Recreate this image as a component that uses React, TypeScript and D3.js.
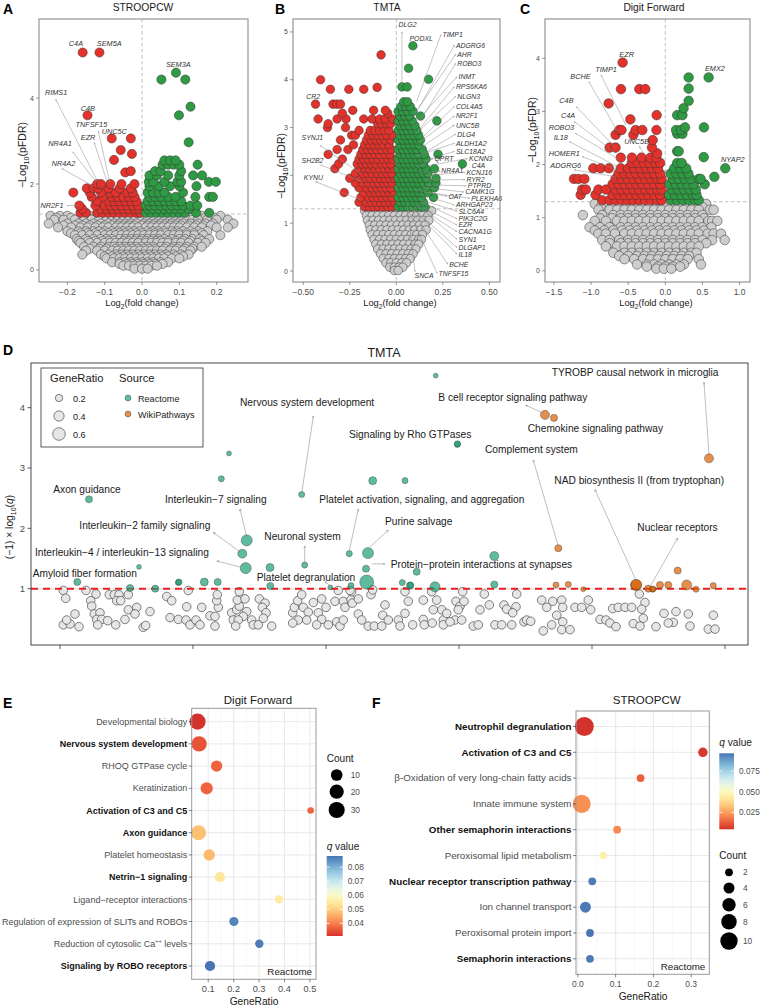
import React from "react";
import * as d3 from "d3";

const FONT = "'Liberation Sans', Arial, Helvetica, sans-serif";

// ===================== Panel A: STROOPCW volcano =====================
const aXTicks = [-0.2, -0.1, 0, 0.1, 0.2];
const aYTicks = [0, 2, 4];
// rows: [y, x1, x2, ...]
const aGrey: number[][] = [
  [1.26, -0.245, -0.22, -0.2, -0.16, -0.14, -0.12, -0.1, -0.085, -0.07, -0.055, -0.04, -0.025, -0.01, 0.005, 0.02, 0.035, 0.05, 0.065, 0.08, 0.095, 0.11, 0.125, 0.14, 0.16, 0.18, 0.21],
  [1.215, -0.23, -0.19, -0.165, -0.145, -0.125, -0.105, -0.09, -0.075, -0.06, -0.045, -0.03, -0.015, 0.01, 0.025, 0.04, 0.055, 0.07, 0.085, 0.1, 0.115, 0.13, 0.15, 0.17, 0.195],
  [1.17, -0.235, -0.21, -0.18, -0.155, -0.135, -0.115, -0.095, -0.08, -0.065, -0.05, -0.035, -0.02, 0.0, 0.015, 0.03, 0.045, 0.06, 0.075, 0.09, 0.105, 0.12, 0.135, 0.15, 0.175, 0.2, 0.23],
  [1.08, -0.25, -0.2, -0.17, -0.15, -0.13, -0.11, -0.09, -0.075, -0.06, -0.045, -0.03, -0.015, 0.005, 0.02, 0.035, 0.05, 0.065, 0.08, 0.095, 0.11, 0.13, 0.15, 0.17, 0.19, 0.245],
  [1.035, -0.21, -0.18, -0.16, -0.14, -0.12, -0.1, -0.08, -0.065, -0.05, -0.035, -0.02, 0.0, 0.015, 0.03, 0.045, 0.06, 0.075, 0.09, 0.105, 0.125, 0.145, 0.165, 0.185],
  [0.99, -0.225, -0.19, -0.165, -0.145, -0.125, -0.105, -0.09, -0.07, -0.055, -0.04, -0.025, -0.01, 0.01, 0.025, 0.04, 0.055, 0.07, 0.085, 0.1, 0.12, 0.14, 0.16, 0.2, 0.23],
  [0.9, -0.2, -0.17, -0.15, -0.13, -0.115, -0.1, -0.08, -0.065, -0.05, -0.035, -0.02, -0.005, 0.015, 0.03, 0.045, 0.06, 0.08, 0.095, 0.11, 0.13, 0.15, 0.175],
  [0.855, -0.19, -0.165, -0.145, -0.125, -0.105, -0.09, -0.075, -0.06, -0.045, -0.03, -0.015, 0.0, 0.02, 0.035, 0.05, 0.065, 0.085, 0.1, 0.12, 0.14, 0.16],
  [0.81, -0.18, -0.16, -0.14, -0.12, -0.1, -0.085, -0.07, -0.055, -0.04, -0.025, -0.01, 0.005, 0.02, 0.035, 0.05, 0.07, 0.085, 0.1, 0.12, 0.14, 0.165, 0.21],
  [0.72, -0.175, -0.15, -0.13, -0.11, -0.095, -0.08, -0.06, -0.045, -0.03, -0.015, 0.0, 0.015, 0.03, 0.045, 0.06, 0.08, 0.1, 0.115, 0.135, 0.155, 0.18],
  [0.675, -0.17, -0.145, -0.125, -0.105, -0.09, -0.075, -0.05, -0.035, -0.02, -0.005, 0.01, 0.025, 0.04, 0.05, 0.07, 0.09, 0.11, 0.13, 0.16],
  [0.63, -0.165, -0.14, -0.12, -0.1, -0.085, -0.07, -0.055, -0.04, -0.025, -0.01, 0.01, 0.025, 0.04, 0.055, 0.07, 0.09, 0.105, 0.125, 0.15, 0.17],
  [0.54, -0.155, -0.13, -0.11, -0.09, -0.075, -0.06, -0.045, -0.03, -0.015, 0.0, 0.015, 0.03, 0.05, 0.065, 0.085, 0.1, 0.12, 0.14, 0.16],
  [0.495, -0.14, -0.115, -0.095, -0.07, -0.055, -0.04, -0.025, -0.01, 0.005, 0.02, 0.035, 0.06, 0.08, 0.095, 0.115, 0.135],
  [0.45, -0.15, -0.12, -0.1, -0.08, -0.065, -0.05, -0.035, -0.02, -0.005, 0.01, 0.025, 0.04, 0.055, 0.075, 0.09, 0.11, 0.13],
  [0.36, -0.16, -0.11, -0.09, -0.07, -0.055, -0.04, -0.025, -0.01, 0.005, 0.02, 0.035, 0.05, 0.065, 0.085, 0.105, 0.125],
  [0.315, -0.1, -0.08, -0.065, -0.05, -0.035, -0.02, -0.005, 0.01, 0.025, 0.04, 0.055, 0.07, 0.09, 0.11],
  [0.27, -0.095, -0.075, -0.06, -0.045, -0.03, -0.015, 0.0, 0.015, 0.03, 0.045, 0.06, 0.08, 0.1],
  [0.18, -0.08, -0.06, -0.045, -0.03, -0.015, 0.0, 0.015, 0.03, 0.05, 0.07],
  [0.14, -0.06, -0.04, -0.025, -0.01, 0.005, 0.02, 0.035, 0.055],
  [0.1, -0.05, -0.035, -0.02, -0.005, 0.01, 0.025, 0.04],
  [0.03, -0.02, 0.0, 0.015],
];
const aRed: number[][] = [
  [1.33, -0.165, -0.15, -0.12, -0.105, -0.09, -0.075, -0.06, -0.045, -0.03, -0.015, -0.005],
  [1.42, -0.16, -0.11, -0.095, -0.08, -0.065, -0.05, -0.035, -0.02, -0.008],
  [1.5, -0.168, -0.125, -0.1, -0.085, -0.07, -0.055, -0.04, -0.025, -0.01],
  [1.6, -0.12, -0.09, -0.075, -0.06, -0.045, -0.03, -0.015],
  [1.7, -0.135, -0.105, -0.08, -0.065, -0.05, -0.035, -0.02],
  [1.8, -0.184, -0.14, -0.11, -0.085, -0.07, -0.04, -0.025],
  [1.9, -0.148, -0.13, -0.118, -0.09, -0.06, -0.03],
  [2.0, -0.12, -0.11, -0.085, -0.055, -0.02],
  [2.27, -0.045], [2.3, -0.03], [2.56, -0.075], [2.7, -0.027], [2.79, -0.057],
  [3.06, -0.081, -0.03], [3.6, -0.146], [5.06, -0.159, -0.114],
];
const aGreen: number[][] = [
  [1.33, 0.01, 0.025, 0.04, 0.055, 0.07, 0.085, 0.1, 0.115, 0.145, 0.18],
  [1.42, 0.015, 0.03, 0.045, 0.06, 0.075, 0.09, 0.105, 0.125],
  [1.5, 0.01, 0.02, 0.035, 0.05, 0.065, 0.08, 0.095, 0.11, 0.13, 0.148],
  [1.6, 0.015, 0.03, 0.045, 0.06, 0.075, 0.09, 0.105],
  [1.7, 0.02, 0.035, 0.05, 0.07, 0.09, 0.143, 0.18, 0.19],
  [1.8, 0.015, 0.03, 0.045, 0.06, 0.11],
  [1.95, 0.02, 0.045, 0.075, 0.1, 0.146],
  [2.05, 0.018, 0.03, 0.06, 0.095, 0.105, 0.179, 0.198],
  [2.2, 0.02, 0.04, 0.07, 0.1, 0.137, 0.161],
  [2.3, 0.035, 0.05, 0.105],
  [2.45, 0.055, 0.07, 0.085, 0.1, 0.149],
  [2.55, 0.06, 0.075, 0.09],
  [2.97, 0.125], [3.6, 0.099], [3.8, 0.13], [4.43, 0.052, 0.116], [4.59, 0.091],
];
// [gene, labelX, labelY, lineStartX, lineStartY, pointX, pointY]
const aLabels: any[][] = [
  ["C4A", -0.196, 5.21],
  ["SEM5A", -0.121, 5.21],
  ["SEM3A", 0.064, 4.73],
  ["RIMS1", -0.26, 4.07, -0.231, 3.97, -0.119, 2.06],
  ["C4B", -0.164, 3.7],
  ["TNFSF15", -0.178, 3.33, -0.117, 3.23, -0.086, 2.02],
  ["UNC5C", -0.108, 3.16],
  ["EZR", -0.164, 3.02, -0.128, 2.96, -0.095, 2.09],
  ["NR4A1", -0.251, 2.89, -0.186, 2.75, -0.121, 2.03],
  ["NR4A2", -0.242, 2.43, -0.215, 2.36, -0.128, 1.94],
  ["NR2F1", -0.272, 1.44, -0.2, 1.5, -0.169, 1.5],
];

// ===================== Panel B: TMTA volcano =====================
const bXTicks = [-0.5, -0.25, 0, 0.25, 0.5];
const bYTicks = [0, 1, 2, 3, 4, 5];
const bGrey: number[][] = [
  [1.26, -0.17, -0.14, -0.11, -0.08, -0.05, -0.02, 0.01, 0.04, 0.07, 0.1, 0.13, 0.16, 0.19],
  [1.16, -0.16, -0.13, -0.1, -0.07, -0.04, -0.01, 0.02, 0.05, 0.08, 0.11, 0.14, 0.17],
  [1.06, -0.155, -0.125, -0.095, -0.065, -0.035, -0.005, 0.025, 0.055, 0.085, 0.115, 0.145, 0.175],
  [0.96, -0.145, -0.115, -0.085, -0.055, -0.025, 0.005, 0.035, 0.065, 0.095, 0.125, 0.155],
  [0.86, -0.14, -0.11, -0.08, -0.05, -0.02, 0.01, 0.04, 0.07, 0.1, 0.13, 0.16],
  [0.76, -0.13, -0.1, -0.07, -0.04, -0.01, 0.02, 0.05, 0.08, 0.11, 0.14],
  [0.66, -0.12, -0.09, -0.06, -0.03, 0.0, 0.03, 0.06, 0.09, 0.12, 0.135],
  [0.56, -0.11, -0.08, -0.05, -0.02, 0.01, 0.04, 0.07, 0.1, 0.12],
  [0.46, -0.1, -0.07, -0.04, -0.01, 0.02, 0.05, 0.08, 0.105],
  [0.36, -0.085, -0.055, -0.025, 0.005, 0.035, 0.065, 0.09],
  [0.26, -0.07, -0.04, -0.01, 0.02, 0.05, 0.075],
  [0.17, -0.055, -0.03, 0.0, 0.03, 0.055],
  [0.08, -0.035, -0.01, 0.015, 0.035],
  [0.01, -0.01, 0.01],
];
const bRed: number[][] = [
  [1.34, -0.17, -0.145, -0.12, -0.095, -0.07, -0.045, -0.02],
  [1.44, -0.2, -0.16, -0.135, -0.11, -0.085, -0.06, -0.035, -0.01],
  [1.54, -0.19, -0.15, -0.125, -0.1, -0.075, -0.05, -0.025],
  [1.64, -0.28, -0.175, -0.14, -0.115, -0.09, -0.065, -0.04, -0.015],
  [1.74, -0.2, -0.16, -0.13, -0.105, -0.08, -0.055, -0.03],
  [1.84, -0.22, -0.18, -0.15, -0.12, -0.095, -0.07, -0.045, -0.02],
  [1.94, -0.25, -0.2, -0.165, -0.14, -0.11, -0.085, -0.06, -0.035, -0.01],
  [2.04, -0.22, -0.18, -0.155, -0.13, -0.1, -0.075, -0.05, -0.025],
  [2.14, -0.33, -0.2, -0.17, -0.145, -0.12, -0.09, -0.065, -0.04, -0.015],
  [2.24, -0.31, -0.21, -0.185, -0.16, -0.135, -0.11, -0.08, -0.055, -0.03],
  [2.34, -0.29, -0.2, -0.175, -0.15, -0.125, -0.1, -0.07, -0.045, -0.02],
  [2.44, -0.366, -0.19, -0.165, -0.14, -0.115, -0.09, -0.06, -0.035],
  [2.54, -0.318, -0.26, -0.18, -0.155, -0.13, -0.105, -0.08, -0.05, -0.025],
  [2.64, -0.23, -0.17, -0.145, -0.12, -0.095, -0.07, -0.04],
  [2.74, -0.3, -0.16, -0.135, -0.11, -0.085, -0.06, -0.03],
  [2.84, -0.24, -0.22, -0.15, -0.125, -0.1, -0.075, -0.05, -0.02],
  [2.94, -0.2, -0.14, -0.115, -0.09, -0.065, -0.04],
  [3.0, -0.37, -0.273],
  [3.08, -0.366, -0.1, -0.08, -0.05, -0.03],
  [3.18, -0.42, -0.318, -0.27, -0.175, -0.13, -0.09, -0.06, -0.02],
  [3.3, -0.29, -0.046],
  [3.36, -0.234, -0.122, -0.059],
  [3.49, -0.434, -0.34, -0.32, -0.3],
  [3.8, -0.354, -0.255, -0.175],
  [3.84, -0.103], [4.0, -0.407], [4.52, -0.082],
];
const bGreen: number[][] = [
  [1.34, 0.01, 0.035, 0.06, 0.085, 0.11, 0.135, 0.155],
  [1.44, 0.02, 0.045, 0.07, 0.095, 0.12, 0.145],
  [1.54, 0.01, 0.035, 0.06, 0.085, 0.11, 0.135, 0.2],
  [1.64, 0.02, 0.045, 0.07, 0.095, 0.12, 0.145, 0.17],
  [1.74, 0.01, 0.035, 0.06, 0.085, 0.11, 0.135, 0.16, 0.205],
  [1.84, 0.02, 0.045, 0.07, 0.095, 0.12, 0.145, 0.175, 0.213],
  [1.94, 0.01, 0.035, 0.06, 0.085, 0.11, 0.135, 0.16, 0.213],
  [2.04, 0.02, 0.045, 0.07, 0.095, 0.12, 0.145, 0.17],
  [2.14, 0.01, 0.035, 0.06, 0.085, 0.11, 0.135, 0.16, 0.205],
  [2.24, 0.02, 0.045, 0.07, 0.095, 0.12, 0.145, 0.355],
  [2.34, 0.01, 0.035, 0.06, 0.085, 0.11, 0.135, 0.16],
  [2.44, 0.02, 0.045, 0.07, 0.095, 0.12, 0.15, 0.224],
  [2.54, 0.01, 0.035, 0.06, 0.085, 0.11, 0.14],
  [2.64, 0.02, 0.045, 0.07, 0.095, 0.12],
  [2.74, 0.01, 0.035, 0.06, 0.085, 0.11, 0.13],
  [2.84, 0.02, 0.045, 0.07, 0.095, 0.12],
  [2.94, 0.01, 0.035, 0.06, 0.085, 0.11],
  [3.04, 0.02, 0.045, 0.07, 0.1],
  [3.14, 0.01, 0.035, 0.06, 0.085, 0.218],
  [3.24, 0.02, 0.045, 0.07, 0.13],
  [3.34, 0.01, 0.035, 0.06, 0.09],
  [3.44, 0.025, 0.05, 0.075],
  [3.54, 0.04, 0.06],
  [3.85, 0.03, 0.058], [4.01, 0.173], [4.24, 0.066], [4.71, 0.089],
];
const bLabels: any[][] = [
  ["DLG2", 0.012, 5.1, 0.03, 5.0, 0.03, 3.89],
  ["PODXL", 0.071, 4.81],
  ["TIMP1", 0.248, 4.89, null, null, 0.11, 3.55],
  ["ADGRG6", 0.32, 4.67, null, null, 0.12, 3.4],
  ["AHR", 0.327, 4.48, null, null, 0.1, 3.3],
  ["ROBO3", 0.327, 4.29, null, null, 0.13, 3.15],
  ["INMT", 0.334, 4.01, null, null, 0.09, 3.05],
  ["RPS6KA6", 0.32, 3.8, null, null, 0.12, 2.95],
  ["NLGN3", 0.327, 3.6, null, null, 0.1, 2.85],
  ["COL4A5", 0.32, 3.39, null, null, 0.13, 2.75],
  ["NR2F1", 0.32, 3.19, null, null, 0.11, 2.65],
  ["UNC5B", 0.32, 3.0, null, null, 0.12, 2.55],
  ["DLG4", 0.327, 2.81, null, null, 0.14, 2.45],
  ["ALDH1A2", 0.32, 2.62, null, null, 0.1, 2.4],
  ["SLC18A2", 0.32, 2.45, null, null, 0.15, 2.3],
  ["QPRT", 0.205, 2.3, null, null, 0.11, 2.15],
  ["KCNN3", 0.391, 2.3, null, null, 0.17, 2.2],
  ["C4A", 0.405, 2.16],
  ["NR4A1", 0.241, 2.04, null, null, 0.12, 2.05],
  ["KCNJ16", 0.377, 2.01, null, null, 0.16, 2.0],
  ["RYR2", 0.377, 1.86, null, null, 0.15, 1.9],
  ["PTPRD", 0.384, 1.73, null, null, 0.16, 1.8],
  ["CAMK1G", 0.37, 1.6, null, null, 0.14, 1.75],
  ["OAT", 0.28, 1.51, null, null, 0.1, 1.7],
  ["PLEKHA6", 0.402, 1.47, null, null, 0.15, 1.65],
  ["ARHGAP23", 0.32, 1.33, null, null, 0.13, 1.6],
  ["SLC6A4", 0.334, 1.2, null, null, 0.12, 1.5],
  ["PIK3C2G", 0.334, 1.04, null, null, 0.13, 1.45],
  ["EZR", 0.334, 0.91, null, null, 0.11, 1.4],
  ["CACNA1G", 0.334, 0.77, null, null, 0.1, 1.38],
  ["SYN1", 0.334, 0.61, null, null, 0.12, 1.35],
  ["DLGAP1", 0.334, 0.44, null, null, 0.09, 1.3],
  ["IL18", 0.334, 0.3, null, null, 0.08, 1.33],
  ["BCHE", 0.284, 0.09, null, null, 0.07, 1.35],
  ["TNFSF15", 0.227, -0.1, null, null, 0.06, 1.32],
  ["SNCA", 0.098, -0.15, 0.1, -0.01, 0.057, 1.42],
  ["CR2", -0.484, 3.6],
  ["SYNJ1", -0.509, 2.73, -0.407, 2.62, -0.193, 2.04],
  ["SH2B2", -0.509, 2.25, -0.407, 2.22, -0.184, 1.87],
  ["KYNU", -0.497, 1.9, -0.434, 1.87, -0.193, 1.49],
];

// ===================== Panel C: Digit Forward volcano =====================
const cXTicks = [-1.5, -1, -0.5, 0, 0.5, 1];
const cYTicks = [0, 1, 2, 3, 4];
const cGrey: number[][] = [
  [1.26, -0.95, -0.8, -0.7, -0.6, -0.5, -0.4, -0.3, -0.2, -0.1, 0.0, 0.1, 0.2, 0.3, 0.4, 0.55],
  [1.2, -0.87, -0.72, -0.62, -0.52, -0.42, -0.32, -0.22, -0.12, -0.02, 0.08, 0.18, 0.28, 0.38, 0.5],
  [1.15, -0.9, -0.75, -0.65, -0.55, -0.45, -0.35, -0.25, -0.15, -0.05, 0.05, 0.15, 0.25, 0.35, 0.45, 0.6, 0.65],
  [1.05, -1.11, -0.85, -0.7, -0.6, -0.5, -0.4, -0.3, -0.2, -0.1, 0.0, 0.1, 0.2, 0.3, 0.4, 0.5],
  [0.99, -0.88, -0.72, -0.6, -0.5, -0.4, -0.3, -0.2, -0.1, 0.0, 0.1, 0.2, 0.3, 0.4, 0.52],
  [0.94, -0.95, -0.8, -0.65, -0.55, -0.45, -0.35, -0.25, -0.15, -0.05, 0.05, 0.15, 0.25, 0.35, 0.45, 0.58, 0.63, 0.7],
  [0.82, -1.02, -0.88, -0.75, -0.6, -0.5, -0.4, -0.3, -0.2, -0.1, 0.0, 0.1, 0.2, 0.3, 0.4, 0.5, 0.62],
  [0.76, -0.95, -0.82, -0.7, -0.58, -0.48, -0.38, -0.28, -0.18, -0.08, 0.02, 0.12, 0.22, 0.32, 0.42, 0.52],
  [0.7, -0.9, -0.8, -0.68, -0.55, -0.45, -0.35, -0.25, -0.15, -0.05, 0.05, 0.15, 0.25, 0.35, 0.45, 0.57, 0.65, 0.75],
  [0.58, -0.85, -0.75, -0.62, -0.5, -0.4, -0.3, -0.2, -0.1, 0.0, 0.1, 0.2, 0.3, 0.4, 0.5, 0.63, 0.8],
  [0.52, -0.75, -0.6, -0.5, -0.4, -0.3, -0.2, -0.1, 0.0, 0.1, 0.2, 0.3, 0.4, 0.55],
  [0.46, -0.8, -0.65, -0.55, -0.45, -0.35, -0.25, -0.15, -0.05, 0.05, 0.15, 0.25, 0.35, 0.45],
  [0.34, -0.7, -0.55, -0.45, -0.35, -0.25, -0.15, -0.05, 0.05, 0.15, 0.25, 0.35, 0.42],
  [0.28, -0.62, -0.5, -0.38, -0.28, -0.18, -0.08, 0.02, 0.12, 0.22, 0.32],
  [0.22, -0.55, -0.42, -0.3, -0.2, -0.1, 0.0, 0.1, 0.2, 0.3, 0.45],
  [0.12, -0.38, -0.25, -0.15, -0.05, 0.05, 0.15, 0.25, 0.48],
  [0.08, -0.25, -0.1, 0.0, 0.1, 0.2],
  [0.04, -0.12, -0.02, 0.08],
];
const cRed: number[][] = [
  [1.33, -0.85, -0.75, -0.67, -0.59, -0.51, -0.43, -0.35, -0.27, -0.19, -0.11, -0.05],
  [1.43, -1.14, -0.94, -0.71, -0.63, -0.55, -0.47, -0.39, -0.31, -0.23, -0.15, -0.07],
  [1.53, -1.12, -1.07, -0.9, -0.8, -0.67, -0.59, -0.51, -0.43, -0.35, -0.27, -0.19, -0.11, -0.05],
  [1.63, -0.71, -0.63, -0.55, -0.47, -0.39, -0.31, -0.23, -0.15, -0.07],
  [1.73, -1.23, -1.17, -1.09, -0.67, -0.59, -0.51, -0.43, -0.35, -0.27, -0.19, -0.11, -0.05],
  [1.83, -0.63, -0.55, -0.47, -0.39, -0.31, -0.23, -0.15, -0.07],
  [1.93, -0.97, -0.87, -0.76, -0.6, -0.5, -0.42, -0.34, -0.26, -0.18, -0.1],
  [2.03, -0.45, -0.37, -0.29, -0.21, -0.13, -0.07],
  [2.13, -0.6, -0.45, -0.32, -0.2, -0.12],
  [2.21, -0.11],
  [2.32, -0.75, -0.67, -0.18],
  [2.46, -0.17],
  [2.56, -0.67, -0.43],
  [2.65, -0.62, -0.59, -0.4, -0.31, -0.12],
  [2.85, -0.471], [2.93, -0.117], [3.15, -0.763],
  [3.42, -0.597, -0.35, -0.27], [3.92, -0.575],
];
const cGreen: number[][] = [
  [1.33, 0.08, 0.16, 0.24, 0.32, 0.4, 0.45],
  [1.43, 0.05, 0.13, 0.21, 0.29, 0.37, 0.42],
  [1.53, 0.09, 0.17, 0.25, 0.33, 0.41],
  [1.63, 0.06, 0.14, 0.22, 0.3, 0.38, 0.53],
  [1.73, 0.1, 0.18, 0.26, 0.34, 0.45, 0.475],
  [1.77, 0.66],
  [1.83, 0.07, 0.15, 0.23, 0.31],
  [1.93, 0.12, 0.2, 0.28, 0.807],
  [2.03, 0.16, 0.22],
  [2.14, 0.517], [2.25, 0.16, 0.18],
  [2.58, 0.16, 0.23], [2.65, 0.144, 0.21], [2.7, 0.265, 0.52],
  [2.93, 0.16, 0.23], [3.06, 0.246], [3.2, 0.314], [3.43, 0.314], [3.64, 0.314, 0.583],
];
const cLabels: any[][] = [
  ["EZR", -0.619, 4.03],
  ["TIMP1", -0.942, 3.75, -0.865, 3.68, -0.529, 2.74],
  ["BCHE", -1.279, 3.62, -1.03, 3.56, -0.642, 2.62],
  ["C4B", -1.427, 3.16, -1.2, 3.09, -0.664, 2.31],
  ["C4A", -1.404, 2.87, -1.225, 2.81, -0.664, 2.21],
  ["ROBO3", -1.571, 2.65, -1.21, 2.59, -0.619, 2.09],
  ["IL18", -1.503, 2.46, -1.29, 2.43, -0.642, 1.96],
  ["HOMER1", -1.571, 2.17, -1.12, 2.15, -0.596, 1.87],
  ["ADGRG6", -1.548, 1.93, -1.225, 1.9, -0.664, 1.77],
  ["UNC5B", -0.552, 2.38, -0.35, 2.34, -0.26, 2.15],
  ["EMX2", 0.534, 3.77],
  ["NYAP2", 0.75, 2.04],
];

// ===================== Panel D: TMTA enrichment =====================
const dXTicks = [29, 162, 295, 428, 561, 694];
const dYTicks = [1, 2, 3, 4];
const dGrey: number[][] = [
  [32.3, 0.97], [34.7, 0.84], [55, 0.97], [65, 0.91], [59.7, 0.8], [60.7, 0.71], [44, 0.58], [63.3, 0.58], [69, 0.6], [65.7, 0.49],
  [70.7, 0.49], [32.3, 0.4], [39, 0.415], [35.7, 0.48], [48, 0.37], [66.7, 0.4], [76.7, 0.47], [84.7, 0.4], [78.3, 0.9], [83.3, 0.9],
  [88, 0.9], [85.7, 0.8], [89.7, 0.8], [97.3, 0.9], [97.3, 0.65], [105.7, 0.69], [104, 0.58], [94, 0.49], [112.3, 0.36], [114.7, 0.39],
  [119, 0.62], [135.7, 0.87], [140.7, 0.8], [155.7, 0.7], [139, 0.52], [147.3, 0.49], [155, 0.48], [159, 0.4], [165, 0.48], [169, 0.4],
  [170.7, 0.69], [179, 0.55], [184, 0.54], [187.3, 0.69], [185.7, 0.8], [186.3, 0.9], [157.3, 0.97], [184, 0.38], [200.7, 0.6], [202.3, 0.48],
  [205.7, 0.65], [208.3, 0.71], [206.3, 0.81], [208.3, 0.95], [214, 0.83], [215.7, 0.62], [212.3, 0.54], [207.3, 0.48], [204.7, 0.38], [220.7, 0.48],
  [222.3, 0.4], [227.3, 0.4], [228.3, 0.83], [234, 0.76], [231.3, 0.69], [235, 0.6], [232.3, 0.51], [240.7, 0.38], [261.7, 0.6], [263.3, 0.69],
  [266.7, 0.8], [270.7, 0.9], [272.3, 0.69], [277.3, 0.61], [282.3, 0.77], [287.3, 0.6], [290.7, 0.83], [295, 0.69], [290.7, 0.49], [285.7, 0.4],
  [275.7, 0.48], [267.3, 0.48], [261.7, 0.43], [297.3, 0.4], [305.7, 0.45], [309, 0.38], [312.3, 0.48], [304, 0.79], [312.3, 0.79], [314, 0.69],
  [320, 0.82], [320.7, 0.95], [321.3, 0.76], [327.3, 0.83], [327.3, 0.58], [330.7, 0.48], [337.3, 0.38], [340, 0.9], [343.3, 0.38], [341.7, 0.98],
  [307.3, 0.97], [319, 0.97],
  [354, 0.73], [351.7, 0.56], [357.3, 0.48], [350.7, 0.38], [374, 0.95], [377.3, 0.79], [374, 0.59], [367.3, 0.48], [369, 0.38], [381.7, 0.4],
  [392.3, 0.81], [400.7, 0.95], [405.7, 0.81], [402.3, 0.65], [392.3, 0.49], [393.3, 0.4], [401.3, 0.43], [412.3, 0.48], [412.3, 0.4], [410.7, 0.65],
  [415.7, 0.59], [424, 0.48], [419, 0.45], [425, 0.79], [429, 0.71], [431.7, 0.95], [433, 0.79], [427.3, 0.65], [430.7, 0.48], [442.3, 0.38],
  [449, 0.65], [447.3, 0.4], [453.3, 0.91], [458.3, 0.73], [464, 0.4], [473, 0.73], [475.7, 0.66], [485.7, 0.91], [485, 0.7], [481.7, 0.6],
  [470.7, 0.4], [480.7, 0.4], [493, 0.45], [495.7, 0.48], [499.7, 0.46], [510.7, 0.81], [515.7, 0.69], [521.7, 0.79], [530.7, 0.81], [531.7, 0.69],
  [525.7, 0.56], [520.7, 0.4], [512.3, 0.3], [531.7, 0.45], [530.7, 0.32], [539, 0.32], [544, 0.69], [550.7, 0.69], [557.3, 0.81], [559.7, 0.65],
  [569, 0.49], [575, 0.48], [579, 0.43], [585, 0.37], [581.7, 0.67], [587.3, 0.69], [594, 0.69], [600.7, 0.69], [608.3, 0.91], [614, 0.77],
  [610.7, 0.66], [612.3, 0.51], [602.3, 0.42], [609, 0.38], [625, 0.37], [633, 0.59], [645, 0.62], [642.3, 0.44], [637.3, 0.43], [659, 0.38],
  [657.3, 0.58], [682.3, 0.56], [677.3, 0.33], [684, 0.33],
];
const dGreyRatio = 0.28;
// [x index, -log10(q), GeneRatio]
const dReactome: number[][] = [
  [58, 2.48, 0.19], [198, 3.24, 0.09], [190.3, 2.82, 0.14], [270.7, 2.56, 0.14], [215.7, 1.8, 0.46], [211.3, 1.58, 0.31],
  [214.7, 1.34, 0.46], [239, 1.35, 0.24], [273.7, 1.39, 0.14], [318.3, 1.58, 0.14], [337, 1.59, 0.46], [335, 1.33, 0.19],
  [335.7, 1.11, 0.74], [108, 1.36, 0.09], [46.3, 1.11, 0.19], [99, 1.01, 0.19], [124.3, 1.0, 0.19], [147.3, 1.1, 0.14],
  [148, 1.11, 0.14], [173.3, 1.11, 0.24], [186.7, 1.11, 0.19], [239.3, 1.045, 0.19], [299.3, 1.02, 0.09], [320, 1.05, 0.14],
  [463.3, 1.54, 0.31], [385.7, 1.28, 0.19], [371.3, 1.1, 0.14], [379, 1.05, 0.19], [379.5, 1.06, 0.14], [404, 1.03, 0.38],
  [463.3, 1.07, 0.19], [404.7, 4.53, 0.09], [426.3, 3.39, 0.14], [426.6, 3.4, 0.14], [374, 2.79, 0.14], [341.7, 2.79, 0.24],
];
const dWiki: number[][] = [
  [514, 3.88, 0.31], [523, 3.83, 0.19], [678, 3.16, 0.31], [527.3, 1.67, 0.19], [525, 1.06, 0.14], [537.3, 1.07, 0.14],
  [552.3, 0.99, 0.09], [605, 1.06, 0.46], [605.3, 1.065, 0.42], [617.3, 1.0, 0.19], [621.7, 0.99, 0.14], [622, 0.995, 0.12],
  [629, 1.06, 0.19], [637.3, 1.06, 0.19], [646.7, 1.3, 0.19], [655.7, 1.06, 0.38], [665, 0.99, 0.14], [682.3, 1.05, 0.14],
];
// [term, labelX, labelY(baseline), arrowFromX, arrowFromY, arrowToX, arrowToY]
const dLabels: any[][] = [
  ["Axon guidance", 22.3, 2.58],
  ["Nervous system development", 209, 4.02, 270.7, 2.58, 282.3, 3.86],
  ["Interleukin\u22127 signaling", 134, 2.42, 215.7, 1.86, 209, 2.32],
  ["Platelet activation, signaling, and aggregation", 288.3, 2.42, 318.3, 1.63, 327.3, 2.32],
  ["Interleukin\u22122 family signaling", 48.3, 1.99, 209, 1.61, 182.3, 1.93],
  ["Neuronal system", 233.3, 1.81, 273.7, 1.44, 273.7, 1.71],
  ["Interleukin\u22124 / interleukin\u221213 signaling", 4, 1.54, 209, 1.36, 185.7, 1.46],
  ["Amyloid fiber formation", 1.7, 1.2],
  ["Platelet degranulation", 225.7, 1.13, 299, 1.05, 294, 1.12],
  ["TYROBP causal network in microglia", 520.7, 4.53, 678, 3.22, 673, 4.42],
  ["B cell receptor signaling pathway", 407.3, 4.11, 512.3, 3.91, 494.7, 4.04],
  ["Chemokine signaling pathway", 496.7, 3.6],
  ["Signaling by Rho GTPases", 318, 3.49],
  ["Complement system", 454, 3.25, 527.3, 1.7, 502.3, 3.13],
  ["NAD biosynthesis II (from tryptophan)", 523.3, 2.74, 605, 1.14, 564, 2.64],
  ["Purine salvage", 354, 2.05, 339, 1.69, 357.3, 1.97],
  ["Nuclear receptors", 606.3, 1.95, 619, 1.03, 646.7, 1.84],
  ["Protein\u2212protein interactions at synapses", 359.7, 1.35, 341, 1.41, 354, 1.41],
];
const dLegendRatios = [0.2, 0.4, 0.6];
const dSources = ["Reactome", "WikiPathways"];

// ===================== Panel E: Digit Forward dot plot =====================
const eTerms = [
  "Developmental biology", "Nervous system development", "RHOQ GTPase cycle", "Keratinization",
  "Activation of C3 and C5", "Axon guidance", "Platelet homeostasis", "Netrin\u22121 signaling",
  "Ligand\u2212receptor interactions", "Regulation of expression of SLITs and ROBOs",
  "Reduction of cytosolic Ca++ levels", "Signaling by ROBO receptors",
];
const eBold = [false, true, false, false, true, true, false, true, false, false, false, true];
const eRatio = [0.058, 0.064, 0.133, 0.094, 0.503, 0.062, 0.104, 0.146, 0.378, 0.201, 0.301, 0.107];
const eCount = [30, 26, 9, 12, 2, 24, 9, 6, 3, 4, 3, 6];
const eQ = [0.031, 0.035, 0.037, 0.037, 0.037, 0.048, 0.047, 0.054, 0.055, 0.086, 0.087, 0.088];
const eXTicks = [0.1, 0.2, 0.3, 0.4, 0.5];
const eCountBreaks = [10, 20, 30];
const eQBreaks = [0.04, 0.05, 0.06, 0.07, 0.08];

// ===================== Panel F: STROOPCW dot plot =====================
const fTerms = [
  "Neutrophil degranulation", "Activation of C3 and C5", "\u03B2-Oxidation of very long-chain fatty acids",
  "Innate immune system", "Other semaphorin interactions", "Peroxisomal lipid metabolism",
  "Nuclear receptor transcription pathway", "Ion channel transport", "Peroxisomal protein import",
  "Semaphorin interactions",
];
const fBold = [true, true, false, false, true, false, true, false, false, true];
const fRatio = [0.017, 0.331, 0.166, 0.01, 0.104, 0.067, 0.038, 0.02, 0.032, 0.032];
const fCount = [12, 3, 2, 11, 2, 2, 2, 4, 2, 2];
const fQ = [0.0045, 0.006, 0.013, 0.022, 0.021, 0.046, 0.095, 0.0955, 0.0964, 0.095];
const fXTicks = [0.0, 0.1, 0.2, 0.3];
const fCountBreaks = [2, 4, 6, 8, 10];
const fQBreaks = [0.025, 0.05, 0.075];

// ---------------------------------------------------------------------
const rowsToPts = (rows: number[][]) =>
  rows.flatMap((r) => r.slice(1).map((x) => [x, r[0]] as [number, number]));

const RED = "#E3322C";
const GREEN = "#2F9A44";
const GREY = "#CDCDCD";
const TXT = "#4D4D4D";

function Volcano(p: any) {
  const { box, xDomain, yDomain, xTicks, yTicks, xFmt, grey, red, green, r, labels,
    title, titleX, yLabX, yLabY, xLabX, letter, letterX, labelSize } = p;
  const x = d3.scaleLinear().domain(xDomain).range([box.l, box.r]);
  const y = d3.scaleLinear().domain(yDomain).range([box.b, box.t]);
  const thr = -Math.log10(0.05);
  const circ = (pts: [number, number][], fill: string, key: string) =>
    pts.map(([a, b], i) => (
      <circle key={key + i} cx={x(a)} cy={y(b)} r={r} fill={fill} stroke="#333" strokeWidth={0.5} />
    ));
  return (
    <g>
      <text x={letterX} y={14} fontSize={14} fontWeight="bold" fill="#000">{letter}</text>
      <text x={titleX} y={11} textAnchor="middle" fontSize={10.3} fill="#1a1a1a">{title}</text>
      <line x1={x(0)} x2={x(0)} y1={box.t} y2={box.b} stroke="#b0b0b0" strokeWidth={0.8} strokeDasharray="3.5,2.5" />
      <line x1={box.l} x2={box.r} y1={y(thr)} y2={y(thr)} stroke="#b0b0b0" strokeWidth={0.8} strokeDasharray="3.5,2.5" />
      {circ(rowsToPts(grey), GREY, "g")}
      {circ(rowsToPts(red), RED, "r")}
      {circ(rowsToPts(green), GREEN, "n")}
      {labels.map((l: any[], i: number) => {
        const [name, lx, ly, sx, sy, tx, ty] = l;
        const hasLine = tx != null;
        const s = sx != null ? [x(sx), y(sy)] : [x(lx) - 1.5, y(ly) - 2.5];
        return (
          <g key={"l" + i}>
            {hasLine && (
              <line x1={x(tx)} y1={y(ty)} x2={s[0]} y2={s[1]} stroke="#8a8a8a" strokeWidth={0.5} markerEnd="url(#arrV)" />
            )}
            <text x={x(lx)} y={y(ly)} fontSize={labelSize} fontStyle="italic" fill="#333">{name}</text>
          </g>
        );
      })}
      <rect x={box.l} y={box.t} width={box.r - box.l} height={box.b - box.t} fill="none" stroke="#8c8c8c" strokeWidth={1.1} />
      {xTicks.map((t: number) => (
        <g key={"xt" + t}>
          <line x1={x(t)} x2={x(t)} y1={box.b} y2={box.b + 3} stroke="#555" strokeWidth={0.6} />
          <text x={x(t)} y={box.b + 13} textAnchor="middle" fontSize={8.5} fill={TXT}>{xFmt(t)}</text>
        </g>
      ))}
      {yTicks.map((t: number) => (
        <g key={"yt" + t}>
          <line x1={box.l - 3} x2={box.l} y1={y(t)} y2={y(t)} stroke="#555" strokeWidth={0.6} />
          <text x={box.l - 5} y={y(t) + 2.5} textAnchor="end" fontSize={7} fill={TXT}>{t}</text>
        </g>
      ))}
      <text transform={`translate(${yLabX},${yLabY}) rotate(-90)`} textAnchor="middle" fontSize={10.5} fill="#1a1a1a">
        <tspan>{"\u2212Log"}</tspan>
        <tspan dy={2.5} fontSize={7.2}>10</tspan>
        <tspan dy={-2.5}>(pFDR)</tspan>
      </text>
      <text x={xLabX} y={306} textAnchor="middle" fontSize={9.3} fill="#1a1a1a">
        <tspan>Log</tspan>
        <tspan dy={2.5} fontSize={6.6}>2</tspan>
        <tspan dy={-2.5}>(fold change)</tspan>
      </text>
    </g>
  );
}

function PanelD() {
  const box = { l: 31, r: 748, t: 363, b: 645 };
  const x = d3.scaleLinear().domain([0, 717]).range([box.l, box.r]);
  const y = d3.scaleLinear().domain([0.066, 4.74]).range([box.b, box.t]);
  const rs = d3.scaleSqrt().domain([0, 0.6]).range([0, 6.3]);
  const srcColor = d3.scaleOrdinal<string, string>().domain(dSources).range(["#1B9E77", "#D95F02"]);
  return (
    <g>
      <text x={3} y={355} fontSize={14} fontWeight="bold">D</text>
      <text x={384} y={357} textAnchor="middle" fontSize={12.5} fill="#1a1a1a">TMTA</text>
      <line x1={box.l} x2={box.r} y1={y(1)} y2={y(1)} stroke="#e3e3e3" strokeWidth={1.5} />
      {dGrey.map(([a, b], i) => (
        <circle key={"dg" + i} cx={x(a)} cy={y(b)} r={rs(dGreyRatio)} fill="#E6E6E6" stroke="#333" strokeWidth={0.6} />
      ))}
      <line x1={box.l} x2={box.r} y1={y(1)} y2={y(1)} stroke="#E8211F" strokeWidth={2} strokeDasharray="7,5" />
      {[...dReactome.map((d) => [...d, 0]), ...dWiki.map((d) => [...d, 1])].map(([a, b, gr, s], i) => (
        <circle key={"dc" + i} cx={x(a)} cy={y(b)} r={rs(gr)} fill={srcColor(dSources[s])} fillOpacity={0.7}
          stroke="#333" strokeOpacity={0.75} strokeWidth={0.5} />
      ))}
      {dLabels.map((l, i) => {
        const [name, lx, ly, fx, fy, tx, ty] = l;
        return (
          <g key={"dl" + i}>
            {fx != null && (
              <line x1={x(fx)} y1={y(fy)} x2={x(tx)} y2={y(ty)} stroke="#8a8a8a" strokeWidth={0.55} markerEnd="url(#arrD)" />
            )}
            <text x={x(lx)} y={y(ly)} fontSize={10.2} fill="#1a1a1a">{name}</text>
          </g>
        );
      })}
      <rect x={box.l} y={box.t} width={box.r - box.l} height={box.b - box.t} fill="none" stroke="#333" strokeWidth={0.9} />
      {dXTicks.map((t) => (
        <line key={"dxt" + t} x1={x(t)} x2={x(t)} y1={box.b} y2={box.b + 4} stroke="#333" strokeWidth={0.8} />
      ))}
      {dYTicks.map((t) => (
        <g key={"dyt" + t}>
          <line x1={box.l - 3.5} x2={box.l} y1={y(t)} y2={y(t)} stroke="#333" strokeWidth={0.8} />
          <text x={box.l - 6} y={y(t) + 3.3} textAnchor="end" fontSize={9.5} fill={TXT}>{t}</text>
        </g>
      ))}
      <text transform="translate(13,527) rotate(-90)" textAnchor="middle" fontSize={10.3} fill="#1a1a1a">
        <tspan>{"(\u22121) \u00D7 log"}</tspan>
        <tspan dy={2.5} fontSize={7}>10</tspan>
        <tspan dy={-2.5}>(</tspan>
        <tspan fontStyle="italic">q</tspan>
        <tspan>)</tspan>
      </text>
      {/* legend */}
      <rect x={41} y={368} width={162} height={79} fill="#fff" stroke="#333" strokeWidth={0.8} />
      <text x={50} y={382} fontSize={11.2} fill="#1a1a1a">GeneRatio</text>
      <text x={119} y={382} fontSize={11.2} fill="#1a1a1a">Source</text>
      {dLegendRatios.map((v, i) => (
        <g key={"lr" + v}>
          <circle cx={59} cy={398 + i * 18} r={rs(v)} fill="#E6E6E6" stroke="#333" strokeWidth={0.6} />
          <text x={73} y={401.5 + i * 18} fontSize={9.1} fill="#1a1a1a">{v.toFixed(1)}</text>
        </g>
      ))}
      {dSources.map((s, i) => (
        <g key={"ls" + s}>
          <circle cx={128} cy={398 + i * 16} r={3} fill={srcColor(s)} fillOpacity={0.7} stroke="#333" strokeOpacity={0.75} strokeWidth={0.5} />
          <text x={138} y={401.5 + i * 16} fontSize={9.1} fill="#1a1a1a">{s}</text>
        </g>
      ))}
    </g>
  );
}

function termLabel(name: string) {
  if (name.includes("Ca++")) {
    const [a, b] = name.split("Ca++");
    return (
      <>
        <tspan>{a + "Ca"}</tspan>
        <tspan dy={-3.5} fontSize={5.5}>++</tspan>
        <tspan dy={3.5}>{b}</tspan>
      </>
    );
  }
  return name;
}

function DotPlot(p: any) {
  const { box, terms, bold, ratio, count, q, xDomain, xTicks, minorTicks, title, titleX, xLabX,
    rScale, qDomain, qBreaks, qFmt, bar, countBreaks, countX, countYs, countTitleY, qTitleY, letter, letterX, gid,
    labelSize, tickSize } = p;
  const x = d3.scaleLinear().domain(xDomain).range([box.l, box.r]);
  const y = d3.scalePoint<string>().domain(terms).range([box.t, box.b]).padding(0.6);
  const qt = d3.scaleLinear().domain(qDomain).range([0, 1]);
  const qColor = (v: number) => d3.interpolateRdYlBu(0.1 + 0.8 * qt(v));
  const qy = d3.scaleLinear().domain(qDomain).range([bar.b, bar.t]);
  const stops = d3.range(0, 1.0001, 0.05);
  return (
    <g>
      <defs>
        <linearGradient id={gid} x1="0" y1="1" x2="0" y2="0">
          {stops.map((s) => (
            <stop key={s} offset={s} stopColor={d3.interpolateRdYlBu(0.1 + 0.8 * s)} />
          ))}
        </linearGradient>
      </defs>
      <text x={letterX} y={708} fontSize={14} fontWeight="bold">{letter}</text>
      <text x={titleX} y={703.5} textAnchor="middle" fontSize={11.5} fill="#1a1a1a">{title}</text>
      <rect x={box.l} y={box.t} width={box.r - box.l} height={box.b - box.t} fill="#fff" />
      {minorTicks.map((t: number) => (
        <line key={"mn" + t} x1={x(t)} x2={x(t)} y1={box.t} y2={box.b} stroke="#f3f3f3" strokeWidth={0.6} />
      ))}
      {xTicks.map((t: number) => (
        <line key={"mj" + t} x1={x(t)} x2={x(t)} y1={box.t} y2={box.b} stroke="#e6e6e6" strokeWidth={0.9} />
      ))}
      {terms.map((t: string) => (
        <line key={"rw" + t} x1={box.l} x2={box.r} y1={y(t)} y2={y(t)} stroke="#e6e6e6" strokeWidth={0.9} />
      ))}
      {terms.map((t: string, i: number) => (
        <circle key={"pt" + t} cx={x(ratio[i])} cy={y(t)} r={rScale(count[i])} fill={qColor(q[i])} />
      ))}
      <rect x={box.l} y={box.t} width={box.r - box.l} height={box.b - box.t} fill="none" stroke="#9a9a9a" strokeWidth={1} />
      {terms.map((t: string, i: number) => (
        <g key={"tl" + t}>
          <line x1={box.l - 3} x2={box.l} y1={y(t)} y2={y(t)} stroke="#333" strokeWidth={0.6} />
          <text x={box.l - 4.5} y={(y(t) as number) + 3.2} textAnchor="end" fontSize={labelSize}
            fontWeight={bold[i] ? "bold" : "normal"} fill={bold[i] ? "#111" : TXT}>{termLabel(t)}</text>
        </g>
      ))}
      {xTicks.map((t: number) => (
        <g key={"xt" + t}>
          <line x1={x(t)} x2={x(t)} y1={box.b} y2={box.b + 3} stroke="#333" strokeWidth={0.6} />
          <text x={x(t)} y={box.b + 12.5} textAnchor="middle" fontSize={tickSize} fill={TXT}>{t.toFixed(1)}</text>
        </g>
      ))}
      <text x={xLabX} y={box.b + 26} textAnchor="middle" fontSize={10.2} fill="#1a1a1a">GeneRatio</text>
      <text x={box.r - 4} y={box.b - 4} textAnchor="end" fontSize={9.8} fill="#1a1a1a">Reactome</text>
      {/* q legend */}
      <text x={bar.l} y={qTitleY} fontSize={10.1} fill="#1a1a1a">
        <tspan fontStyle="italic">q</tspan>
        <tspan> value</tspan>
      </text>
      <rect x={bar.l} y={bar.t} width={bar.r - bar.l} height={bar.b - bar.t} fill={`url(#${gid})`} />
      {qBreaks.map((b: number) => (
        <g key={"qb" + b}>
          <line x1={bar.l} x2={bar.l + 3} y1={qy(b)} y2={qy(b)} stroke="#fff" strokeWidth={0.8} />
          <line x1={bar.r - 3} x2={bar.r} y1={qy(b)} y2={qy(b)} stroke="#fff" strokeWidth={0.8} />
          <text x={bar.r + 5} y={qy(b) + 3} fontSize={8.3} fill={TXT}>{qFmt(b)}</text>
        </g>
      ))}
      {/* count legend */}
      <text x={bar.l} y={countTitleY} fontSize={10.1} fill="#1a1a1a">Count</text>
      {countBreaks.map((c: number, i: number) => (
        <g key={"cb" + c}>
          <circle cx={countX} cy={countYs[i]} r={rScale(c)} fill="#000" />
          <text x={countX + 14} y={countYs[i] + 3} fontSize={8.3} fill={TXT}>{c}</text>
        </g>
      ))}
    </g>
  );
}

export default function App() {
  const eR = (c: number) => 3.3 + 5 * Math.sqrt(Math.max(0, c - 2) / 31);
  const fR = d3.scaleSqrt().domain([0, 12]).range([0, 9.5]);
  return (
    <svg width={761} height={1007} viewBox="0 0 761 1007"
      style={{ position: "absolute", left: 0, top: 0, background: "#fff", fontFamily: FONT }}>
      <defs>
        <marker id="arrV" viewBox="0 0 6 6" refX="5.5" refY="3" markerWidth="4" markerHeight="4" orient="auto">
          <path d="M0,0.5L6,3L0,5.5" fill="none" stroke="#8a8a8a" strokeWidth="1" />
        </marker>
        <marker id="arrD" viewBox="0 0 6 6" refX="5.5" refY="3" markerWidth="5" markerHeight="5" orient="auto">
          <path d="M0,0.5L6,3L0,5.5" fill="none" stroke="#8a8a8a" strokeWidth="1" />
        </marker>
      </defs>
      <rect x={0} y={0} width={761} height={1007} fill="#fff" />
      <Volcano box={{ l: 39, r: 248, t: 19, b: 282 }} xDomain={[-0.276, 0.284]} yDomain={[-0.28, 5.84]}
        xTicks={aXTicks} yTicks={aYTicks} xFmt={d3.format(".1f")} grey={aGrey} red={aRed} green={aGreen} r={4.6}
        labels={aLabels} title="STROOPCW" titleX={143} yLabX={26} yLabY={155} xLabX={142} letter="A" letterX={3} labelSize={7.3} />
      <Volcano box={{ l: 293, r: 500, t: 19, b: 282 }} xDomain={[-0.555, 0.557]} yDomain={[-0.23, 5.27]}
        xTicks={bXTicks} yTicks={bYTicks} xFmt={d3.format(".2f")} grey={bGrey} red={bRed} green={bGreen} r={4.3}
        labels={bLabels} title="TMTA" titleX={387} yLabX={285} yLabY={166} xLabX={400} letter="B" letterX={275} labelSize={6.9} />
      <Volcano box={{ l: 545, r: 750, t: 19, b: 282 }} xDomain={[-1.62, 1.14]} yDomain={[-0.21, 4.74]}
        xTicks={cXTicks} yTicks={cYTicks} xFmt={d3.format(".1f")} grey={cGrey} red={cRed} green={cGreen} r={4.8}
        labels={cLabels} title="Digit Forward" titleX={654} yLabX={536} yLabY={130} xLabX={656} letter="C" letterX={520} labelSize={7.3} />
      <PanelD />
      <DotPlot gid="gradE" box={{ l: 191.7, r: 316, t: 708.3, b: 979.3 }} terms={eTerms} bold={eBold} ratio={eRatio}
        count={eCount} q={eQ} xDomain={[0.035, 0.524]} xTicks={eXTicks} minorTicks={[0.05, 0.15, 0.25, 0.35, 0.45]}
        title="Digit Forward" titleX={258} xLabX={254} rScale={eR} qDomain={[0.031, 0.088]} qBreaks={eQBreaks}
        qFmt={d3.format(".2f")} bar={{ l: 326.7, r: 342.7, t: 856, b: 936 }} countBreaks={eCountBreaks}
        countX={336.7} countYs={[775, 791.7, 810]} countTitleY={762} qTitleY={850} letter="E" letterX={3}
        labelSize={9} tickSize={9.2} />
      <DotPlot gid="gradF" box={{ l: 576, r: 709.3, t: 711, b: 974.3 }} terms={fTerms} bold={fBold} ratio={fRatio}
        count={fCount} q={fQ} xDomain={[-0.005, 0.348]} xTicks={fXTicks} minorTicks={[0.05, 0.15, 0.25]}
        title="STROOPCW" titleX={646.7} xLabX={643} rScale={fR} qDomain={[0.0045, 0.0964]} qBreaks={fQBreaks}
        qFmt={d3.format(".3f")} bar={{ l: 719.3, r: 734, t: 753.3, b: 829.3 }} countBreaks={fCountBreaks}
        countX={729} countYs={[872.3, 888, 904.7, 921.7, 941]} countTitleY={859} qTitleY={746} letter="F" letterX={372}
        labelSize={9.8} tickSize={8.5} />
    </svg>
  );
}
